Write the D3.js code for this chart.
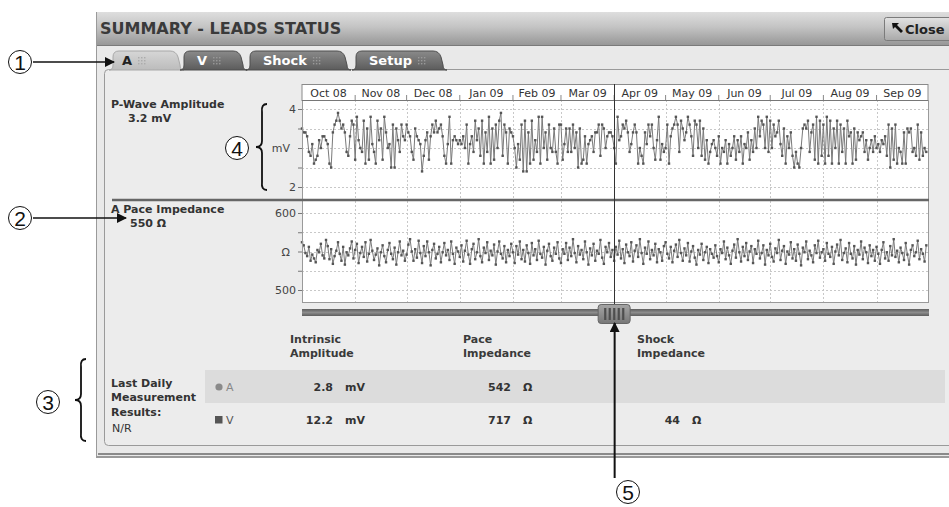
<!DOCTYPE html>
<html><head><meta charset="utf-8">
<script src="https://cdn.jsdelivr.net/npm/d3@7"></script>
<style>
html,body{margin:0;padding:0;background:#fff;}
svg{display:block;font-family:"DejaVu Sans",sans-serif;}
</style></head><body>
<svg id="c" width="949" height="507"></svg>
<script>
// ---------- data ----------
const months = ["Oct 08","Nov 08","Dec 08","Jan 09","Feb 09","Mar 09","Apr 09","May 09","Jun 09","Jul 09","Aug 09","Sep 09"];
const startDate = new Date(2008, 9, 1);
const endDate = new Date(2009, 9, 1);
const cursorDate = new Date(2009, 3, 1);
const ampTicks = [2, 2.5, 3, 3.5, 4];
const ampLabels = {2:"2", 3:"mV", 4:"4"};
const impTicks = [500, 525, 550, 575, 600];
const impLabels = {500:"500", 550:"Ω", 600:"600"};
const tabs = ["A","V","Shock","Setup"];
const pWave = [
3.5,3.4,3.4,3.3,2.9,2.8,3.1,2.6,2.7,2.8,3.2,3.0,3.3,3.3,3.2,3.1,2.6,2.5,3.4,3.6,3.7,3.9,3.7,3.5,3.6,3.4,2.9,2.8,3.3,3.7,3.6,
2.7,3.8,3.2,3.0,2.9,3.7,2.6,3.5,2.7,3.8,3.1,2.9,2.6,3.7,3.2,3.5,2.7,3.8,3.4,3.0,3.1,2.5,3.6,2.5,3.5,3.2,2.9,3.6,3.3,3.2,
3.6,3.4,3.3,2.9,2.7,3.5,3.3,3.2,3.1,2.4,2.8,3.2,3.4,2.7,3.3,3.6,3.4,3.7,3.4,3.5,3.6,3.3,2.8,2.6,3.1,3.8,2.6,3.2,3.3,3.2,3.1,
3.2,3.1,3.3,3.0,3.6,2.6,3.1,3.3,2.9,3.7,3.2,3.5,2.8,3.7,2.6,3.4,2.9,3.8,2.6,3.5,2.7,3.6,3.0,3.7,3.9,2.8,3.6,3.4,2.6,3.5,3.4,
3.3,3.0,2.5,3.1,2.7,3.6,2.4,3.7,2.4,3.4,2.6,3.7,2.7,3.2,2.9,3.8,2.6,3.8,3.0,3.4,2.7,3.6,3.0,2.9,3.5,2.9,2.6,3.6,
3.6,2.7,3.1,3.5,2.9,3.5,2.9,3.6,3.0,3.4,2.5,3.5,2.6,2.7,3.3,2.6,3.1,3.2,3.3,2.9,3.4,3.4,3.6,2.8,3.6,3.5,3.0,3.3,3.4,3.4,3.3,
3.0,2.6,3.8,3.2,3.3,3.6,3.5,3.7,3.4,2.9,3.1,3.4,3.6,3.4,2.6,3.0,2.8,2.6,3.4,3.1,3.6,3.3,3.6,3.0,2.7,3.2,3.8,2.7,3.1,2.9,
3.0,3.6,2.6,3.3,3.5,3.6,3.8,3.6,2.9,3.7,3.5,3.2,3.4,3.8,3.6,3.3,2.8,3.7,3.6,3.0,3.7,2.8,3.5,2.7,3.2,2.6,2.9,3.1,3.2,3.0,2.8,
3.3,2.6,3.0,2.9,3.2,2.6,3.1,2.8,3.0,3.3,2.7,3.2,2.9,3.3,2.6,3.1,3.0,3.4,2.7,3.2,2.9,3.5,3.0,3.8,3.3,3.7,3.6,3.0,3.8,2.9,
3.7,3.0,3.6,3.3,3.4,3.7,3.1,2.8,3.5,2.6,3.3,3.0,3.4,2.8,2.5,2.9,2.6,2.5,3.0,3.5,3.6,3.5,3.7,2.9,3.4,3.6,2.7,3.8,2.6,3.7,2.8,
3.6,2.6,3.8,2.8,3.7,2.6,3.5,3.0,3.7,2.6,3.6,2.9,3.5,2.6,3.7,3.3,3.4,2.6,3.5,2.7,3.4,3.2,3.3,3.4,2.9,3.2,2.7,3.0,3.2,2.9,3.3,
3.0,3.1,2.9,3.2,3.1,3.3,2.8,3.6,2.5,3.5,2.7,3.6,2.6,3.0,2.9,2.6,3.4,2.6,3.5,3.4,3.5,2.9,3.0,2.8,3.6,2.7,3.4,2.8,3.0,2.9];
const impedance = [
562,558,548,544,556,538,546,541,536,552,549,560,545,541,565,557,540,553,534,544,551,562,547,538,556,533,549,545,554,563,541,
552,560,535,548,556,543,562,537,547,565,551,539,546,554,532,549,558,544,536,552,561,547,540,555,533,549,563,545,551,538,
546,559,566,550,538,553,542,564,548,535,557,544,563,549,532,552,560,541,547,556,536,549,561,545,552,539,563,547,534,555,550,
543,558,537,551,564,546,534,553,560,540,549,566,544,536,555,548,562,539,551,545,559,533,550,563,547,541,557,536,552,544,560,
549,535,557,546,563,540,552,537,558,548,534,561,545,553,539,564,547,542,556,533,551,560,544,538,555,547,562,541,
535,553,547,561,539,555,544,566,548,536,557,546,552,540,563,549,533,554,545,560,538,551,547,565,542,534,556,549,561,543,552,
538,556,546,564,541,553,535,559,549,544,562,537,551,558,543,566,548,534,555,547,563,540,552,545,560,536,553,549,538,557,
562,547,541,556,536,551,559,543,565,548,538,554,545,561,537,550,557,542,533,552,546,560,539,549,556,535,553,547,542,558,544,
536,553,548,563,540,555,545,534,551,559,542,566,549,537,556,544,561,539,550,557,535,553,547,564,541,548,558,533,552,545,
560,543,537,554,548,565,539,551,557,534,550,546,562,541,553,538,559,547,532,555,549,563,540,551,545,536,558,548,564,542,549,
553,538,561,547,543,556,534,550,559,545,565,539,548,554,536,561,547,541,557,533,552,546,563,540,555,549,535,558,544,552,538,
556,547,534,552,562,541,549,538,557,545,566,543,551,536,555,548,539,561,546,533,552,558,544,549,564,540,553,547,537,558];
const tableHeaders = [["Intrinsic","Amplitude"],["Pace","Impedance"],["Shock","Impedance"]];
const tableRows = [
  {lead:"A", marker:"circle", amp:"2.8", pace:"542", shock:""},
  {lead:"V", marker:"square", amp:"12.2", pace:"717", shock:"44"}];

// ---------- drawing ----------
const svg = d3.select("#c");
const defs = svg.append("defs");
function lg(id, stops){ const g=defs.append("linearGradient").attr("id",id).attr("x1",0).attr("y1",0).attr("x2",0).attr("y2",1);
  stops.forEach(s=>g.append("stop").attr("offset",s[0]).attr("stop-color",s[1])); }
lg("titleG",[[0,"#dedede"],[0.45,"#c4c4c4"],[1,"#979797"]]);
lg("tabDark",[[0,"#8a8a8a"],[1,"#5c5c5c"]]);
lg("tabLight",[[0,"#d6d6d6"],[1,"#bcbcbc"]]);
lg("closeG",[[0,"#e2e2e2"],[1,"#a9a9a9"]]);
lg("trackG",[[0,"#5e5e5e"],[0.5,"#8c8c8c"],[1,"#5e5e5e"]]);
lg("thumbG",[[0,"#a5a5a5"],[1,"#777"]]);
defs.append("marker").attr("id","arr2").attr("viewBox","0 0 10 10").attr("refX",9).attr("refY",5)
  .attr("markerWidth",20).attr("markerHeight",10).attr("markerUnits","userSpaceOnUse").attr("orient","auto")
  .append("path").attr("d","M0,0L10,5L0,10z").attr("fill","#111");

// window frame
svg.append("rect").attr("x",96).attr("y",12).attr("width",870).attr("height",446).attr("fill","#9a9a9a");
svg.append("rect").attr("x",97).attr("y",13).attr("width",870).attr("height",443).attr("fill","#e9e9e9");
svg.append("rect").attr("x",97).attr("y",12).attr("width",870).attr("height",33).attr("fill","url(#titleG)");
svg.append("line").attr("x1",97).attr("x2",949).attr("y1",45.5).attr("y2",45.5).attr("stroke","#7a7a7a");
svg.append("text").attr("x",100).attr("y",34).attr("font-size",16).attr("font-weight","bold").attr("fill","#3a3a3a")
  .text("SUMMARY - LEADS STATUS");
// close button
svg.append("rect").attr("x",884.5).attr("y",17.5).attr("width",70).attr("height",23).attr("rx",2)
  .attr("fill","url(#closeG)").attr("stroke","#7b7b7b");
svg.append("path").attr("d","M892,23 L899,23 L897,25 L903,31 L901,33 L895,27 L893,29 Z").attr("fill","#111");
svg.append("text").attr("x",905).attr("y",34).attr("font-size",13).attr("font-weight","bold").attr("fill","#222").text("Close");

// inner panel
svg.append("rect").attr("x",104.5).attr("y",69.5).attr("width",860).attr("height",376).attr("rx",4)
  .attr("fill","#ececec").attr("stroke","#9a9a9a");
svg.append("line").attr("x1",98).attr("x2",949).attr("y1",454).attr("y2",454).attr("stroke","#8a8a8a").attr("stroke-width",2);

// tabs
const tabX = [[113,180],[184,243],[250,347],[356,443]];
tabs.forEach((t,i)=>{
  const [a,b]=tabX[i], top=51, bot=70, r=6;
  const p = `M${a-4},${bot} Q${a},${bot} ${a},${bot-5} L${a},${top+r} Q${a},${top} ${a+r},${top} L${b-r-4},${top} Q${b-4},${top} ${b-2},${top+r} L${b},${bot-5} Q${b},${bot} ${b+4},${bot} Z`;
  svg.append("path").attr("d",p).attr("fill", i===0?"url(#tabLight)":"url(#tabDark)").attr("stroke", i===0?"#a8a8a8":"#4e4e4e");
  const tx = svg.append("text").attr("x",a+(i===0?9:13)).attr("y",65).attr("font-size",13).attr("font-weight","bold")
    .attr("fill", i===0?"#222":"#fff").text(t);
  const w = tx.node().getComputedTextLength();
  const gx = a+(i===0?9:13)+w+6;
  for(let r2=0;r2<3;r2++) for(let c=0;c<3;c++)
    svg.append("rect").attr("x",gx+c*3).attr("y",57+r2*3).attr("width",1.4).attr("height",1.4)
      .attr("fill", i===0?"#aaa":"#9a9a9a");
});

// scales
const x = d3.scaleTime().domain([startDate,endDate]).range([302,928]);
const yA = d3.scaleLinear().domain([2,4]).range([187,109]);
const yI = d3.scaleLinear().domain([500,600]).range([290,213]);
const dayDate = i => new Date(2008,9,1+i);
const monthStarts = d3.timeMonth.range(startDate,endDate);

// month strip
svg.append("rect").attr("x",302).attr("y",84.5).attr("width",626).attr("height",16).attr("fill","#fff").attr("stroke","#8a8a8a");
monthStarts.forEach((d,i)=>{
  const mid = (x(d)+x(d3.timeMonth.offset(d,1)))/2;
  svg.append("text").attr("x",mid).attr("y",97).attr("text-anchor","middle").attr("font-size",11).attr("fill","#333").text(months[i]);
  if(i>0) svg.append("line").attr("x1",x(d)).attr("x2",x(d)).attr("y1",95).attr("y2",100).attr("stroke","#888");
});

function panel(y, ticks, labels, top, bottom, data){
  svg.append("rect").attr("x",302).attr("y",top).attr("width",626).attr("height",bottom-top).attr("fill","#fff");
  const g = svg.append("g");
  ticks.forEach(t=>{
    g.append("line").attr("x1",302).attr("x2",928).attr("y1",Math.round(y(t))+0.5).attr("y2",Math.round(y(t))+0.5)
      .attr("stroke","#c8c8c8").attr("stroke-dasharray","2,2");
  });
  monthStarts.slice(1).forEach(d=>{
    g.append("line").attr("x1",Math.round(x(d))+0.5).attr("x2",Math.round(x(d))+0.5).attr("y1",top).attr("y2",bottom)
      .attr("stroke","#c8c8c8").attr("stroke-dasharray","2,2");
  });
  const ax = svg.append("g").attr("transform","translate(302,0)")
    .call(d3.axisLeft(y).tickValues(ticks).tickSize(4).tickFormat(t=>labels[t]||""));
  ax.select(".domain").remove();
  ax.selectAll("line").attr("stroke","#777");
  ax.selectAll("text").attr("font-size",11).attr("fill","#444").attr("font-family","DejaVu Sans, sans-serif")
    .attr("x",d=>labels[d] && isNaN(+labels[d]) ? -12 : -6);
  const line = d3.line().x((d,i)=>x(dayDate(i))).y(d=>y(d));
  svg.append("path").datum(data).attr("d",line).attr("fill","none").attr("stroke","#7a7a7a").attr("stroke-width",1);
  svg.append("g").selectAll("rect").data(data).join("rect")
    .attr("x",(d,i)=>x(dayDate(i))-1.2).attr("y",d=>y(d)-1.2).attr("width",2.4).attr("height",2.4).attr("fill","#555");
  svg.append("line").attr("x1",928.5).attr("x2",928.5).attr("y1",top).attr("y2",bottom).attr("stroke","#9a9a9a");
  svg.append("line").attr("x1",302.5).attr("x2",302.5).attr("y1",top).attr("y2",bottom).attr("stroke","#9a9a9a");
}
panel(yA, ampTicks, ampLabels, 100, 199, pWave);
panel(yI, impTicks, impLabels, 201, 302, impedance);
svg.append("line").attr("x1",302).attr("x2",928).attr("y1",100.5).attr("y2",100.5).attr("stroke","#777");
svg.append("line").attr("x1",302).attr("x2",929).attr("y1",302.5).attr("y2",302.5).attr("stroke","#999");
svg.append("line").attr("x1",112).attr("x2",929).attr("y1",200).attr("y2",200).attr("stroke","#666").attr("stroke-width",2.5);

// left labels
const lab = (t,xx,yy,bold,sz)=>svg.append("text").attr("x",xx).attr("y",yy).attr("font-size",sz||11)
  .attr("font-weight",bold?"bold":"normal").attr("fill","#333").text(t);
lab("P-Wave Amplitude",111,108,true);
lab("3.2 mV",128,122,true);
lab("A Pace Impedance",111,213,true);
lab("550 Ω",130,227,true);

// cursor & slider
svg.append("rect").attr("x",302).attr("y",309).attr("width",627).attr("height",7).attr("fill","url(#trackG)");
svg.append("line").attr("x1",Math.round(x(cursorDate))+0.5).attr("x2",Math.round(x(cursorDate))+0.5).attr("y1",84).attr("y2",306)
  .attr("stroke","#333").attr("stroke-width",1);
const tx0 = x(cursorDate)-16;
svg.append("rect").attr("x",tx0).attr("y",304.5).attr("width",32).attr("height",19).attr("rx",3)
  .attr("fill","url(#thumbG)").attr("stroke","#666");
[0,1,2,3,4].forEach(k=>svg.append("rect").attr("x",tx0+6+k*4.5).attr("y",308).attr("width",2.2).attr("height",12).attr("fill","#4e4e4e"));

// table
svg.append("rect").attr("x",205).attr("y",370).attr("width",740).attr("height",33).attr("fill","#dcdcdc");
const colX = [290,463,637];
tableHeaders.forEach((h,i)=>{ lab(h[0],colX[i],343,true,11).attr("fill","#3a3a3a");
  lab(h[1],colX[i],357,true,11).attr("fill","#3a3a3a"); });
lab("Last Daily",111,387,true); lab("Measurement",111,401,true); lab("Results:",111,416,true);
lab("N/R",112,432,false);
tableRows.forEach((r,i)=>{
  const yy = 391 + i*33;
  if(r.marker==="circle") svg.append("circle").attr("cx",219).attr("cy",yy-4).attr("r",3.6).attr("fill","#8a8a8a");
  else svg.append("rect").attr("x",215).attr("y",yy-8).attr("width",7.5).attr("height",7.5).attr("fill","#555");
  lab(r.lead,226,yy,false).attr("fill",i===0?"#888":"#555");
  lab(r.amp,333,yy,true).attr("text-anchor","end");
  lab("mV",345,yy,true);
  lab(r.pace,511,yy,true).attr("text-anchor","end");
  lab("Ω",523,yy,true);
  if(r.shock){ lab(r.shock,680,yy,true).attr("text-anchor","end"); lab("Ω",692,yy,true); }
});

// annotations
function circ(n,cx,cy){ svg.append("circle").attr("cx",cx).attr("cy",cy).attr("r",11.5).attr("fill","#fff").attr("stroke","#111").attr("stroke-width",1);
  svg.append("text").attr("x",cx).attr("y",cy+7.5).attr("text-anchor","middle").attr("font-size",21)
    .attr("font-family","Liberation Sans, Arial, sans-serif").attr("fill","#111").text(n); }
function brace(xx,y0,y1){ const m=(y0+y1)/2;
  svg.append("path").attr("d",`M${xx+8},${y0} Q${xx+2},${y0} ${xx+3},${y0+8} L${xx+3},${m-6} Q${xx+3},${m} ${xx-3},${m} Q${xx+3},${m} ${xx+3},${m+6} L${xx+3},${y1-8} Q${xx+2},${y1} ${xx+8},${y1}`)
    .attr("fill","none").attr("stroke","#111").attr("stroke-width",1.8); }
circ("1",20,62);
svg.append("line").attr("x1",33).attr("x2",114).attr("y1",62).attr("y2",62).attr("stroke","#111").attr("stroke-width",1.5).attr("marker-end","url(#arr2)");
circ("2",20,218);
svg.append("line").attr("x1",33).attr("x2",126).attr("y1",218).attr("y2",218).attr("stroke","#111").attr("stroke-width",1.5).attr("marker-end","url(#arr2)");
circ("3",48,402); brace(78,359,441);
circ("4",237,148); brace(259,104,190);
circ("5",628,492);
svg.append("line").attr("x1",x(cursorDate)+0.5).attr("x2",x(cursorDate)+0.5).attr("y1",478).attr("y2",323).attr("stroke","#111").attr("stroke-width",2).attr("marker-end","url(#arr2)");
</script>
</body></html>
